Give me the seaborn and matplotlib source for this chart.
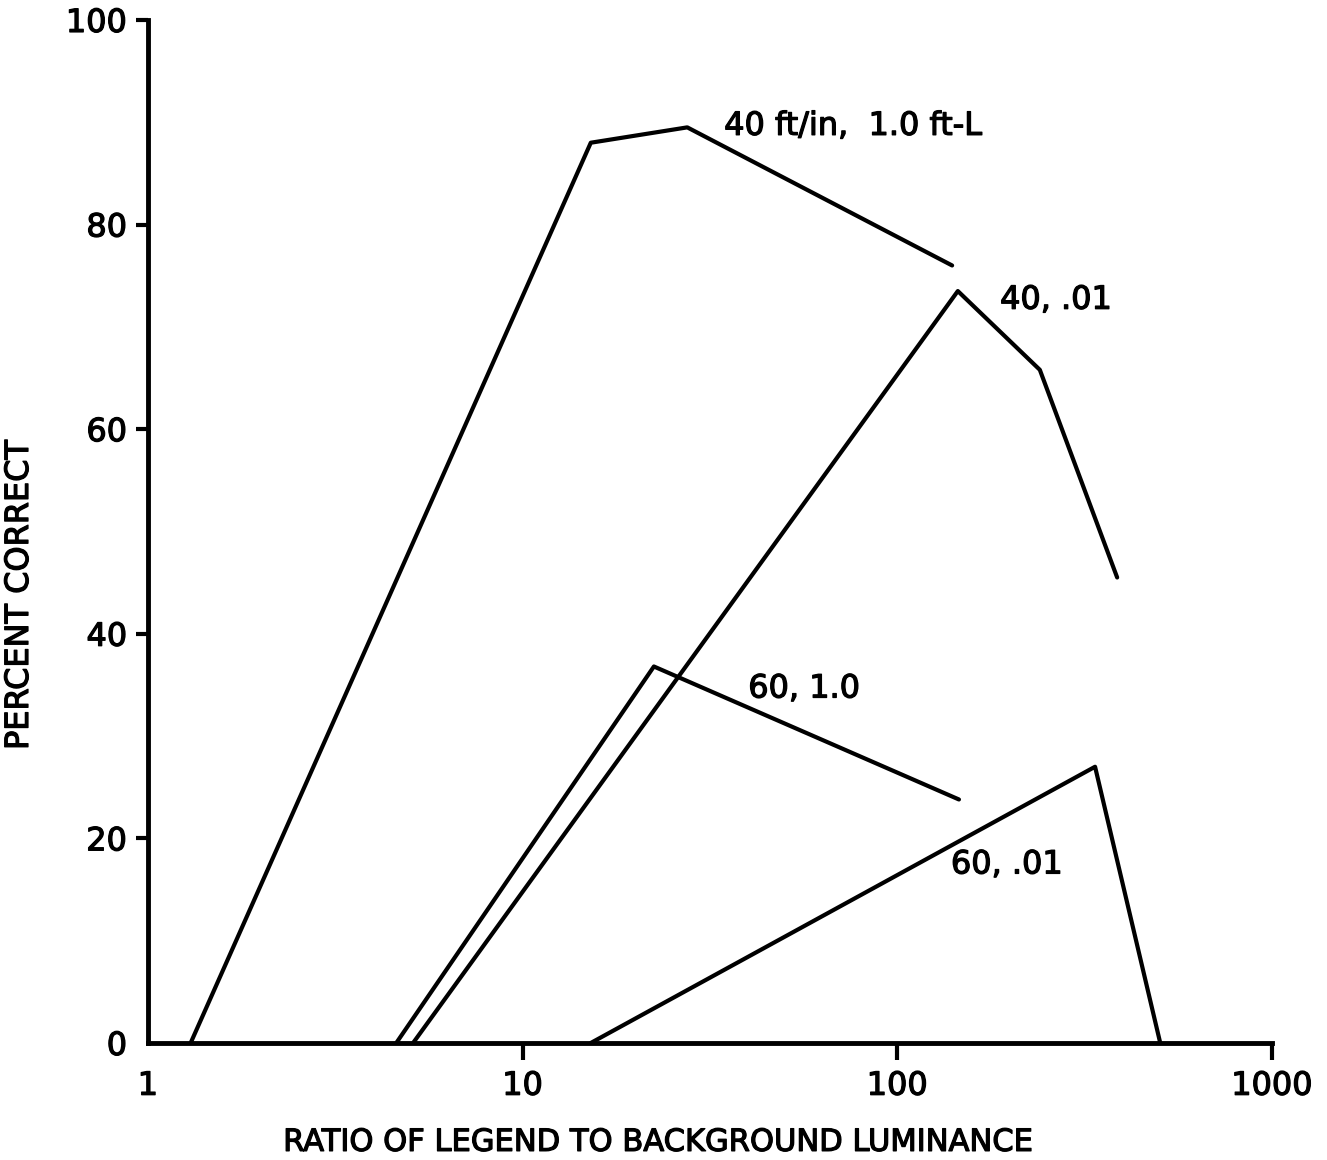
import matplotlib
matplotlib.use("Agg")
import matplotlib.pyplot as plt
import matplotlib.patheffects as pe
import seaborn as sns
import pandas as pd

# Percent correct vs. legend/background luminance ratio for four conditions
ratio_40_10 = [1.3, 15.2, 27.5, 140]
pct_40_10 = [0, 88, 89.5, 76]

ratio_40_01 = [5.1, 145, 240, 386]
pct_40_01 = [0, 73.5, 65.8, 45.5]

ratio_60_10 = [4.6, 22.4, 146]
pct_60_10 = [0, 36.8, 23.8]

ratio_60_01 = [15.2, 337, 503]
pct_60_01 = [0, 27, 0]

series_names = ["40 ft/in,  1.0 ft-L", "40, .01", "60, 1.0", "60, .01"]
label_x = [34.5, 188, 40, 139]
label_y = [89.6, 72.6, 34.6, 17.4]

x_ticks = [1, 10, 100, 1000]
x_ticklabels = ["1", "10", "100", "1000"]
y_ticks = [0, 20, 40, 60, 80, 100]

frames = []
for name, xs, ys in zip(series_names,
                        [ratio_40_10, ratio_40_01, ratio_60_10, ratio_60_01],
                        [pct_40_10, pct_40_01, pct_60_10, pct_60_01]):
    frames.append(pd.DataFrame({"ratio": xs, "pct": ys, "cond": name}))
df = pd.concat(frames, ignore_index=True)

sns.set_theme(style="ticks")
plt.rcParams["font.family"] = ["DejaVu Sans"]

# slight outline to thicken the lettering
heavy = [pe.withStroke(linewidth=0.9, foreground="black")]

fig = plt.figure(figsize=(13.27, 11.6), dpi=100)
ax = fig.add_axes([0.1115, 0.1009, 0.8471, 0.8819])

for name in series_names:
    sub = df[df["cond"] == name]
    sns.lineplot(data=sub, x="ratio", y="pct", sort=False, color="black",
                 linewidth=3.0, ax=ax, legend=False, estimator=None)

ax.set_xscale("log")
ax.set_xlim(1, 1000)
ax.set_ylim(0, 100)
ax.set_xticks(x_ticks)
ax.set_xticklabels(x_ticklabels)
ax.minorticks_off()
ax.set_yticks(y_ticks)

for spine in ["top", "right"]:
    ax.spines[spine].set_visible(False)
for spine in ["left", "bottom"]:
    ax.spines[spine].set_linewidth(3.5)
    ax.spines[spine].set_color("black")

ax.tick_params(axis="both", colors="black", width=3, labelsize=23)
ax.tick_params(axis="x", length=12, pad=8)
ax.tick_params(axis="y", length=9, pad=6)
ax.xaxis.get_major_ticks()[0].tick1line.set_visible(False)
ax.yaxis.get_major_ticks()[0].tick1line.set_visible(False)
for lab in ax.get_xticklabels() + ax.get_yticklabels():
    lab.set_path_effects(heavy)

ax.set_xlabel("RATIO OF LEGEND TO BACKGROUND LUMINANCE", fontsize=22,
              color="black", path_effects=heavy)
ax.set_ylabel("PERCENT CORRECT", fontsize=23, color="black",
              path_effects=heavy)
ax.xaxis.set_label_coords(0.453, -0.083)
ax.yaxis.set_label_coords(-0.1005, 0.438)

for name, lx, ly in zip(series_names, label_x, label_y):
    ax.text(lx, ly, name, fontsize=23, ha="left", va="center", color="black",
            path_effects=heavy)

ax.set_facecolor("white")
fig.patch.set_facecolor("white")
fig.savefig("out.png", dpi=100)
